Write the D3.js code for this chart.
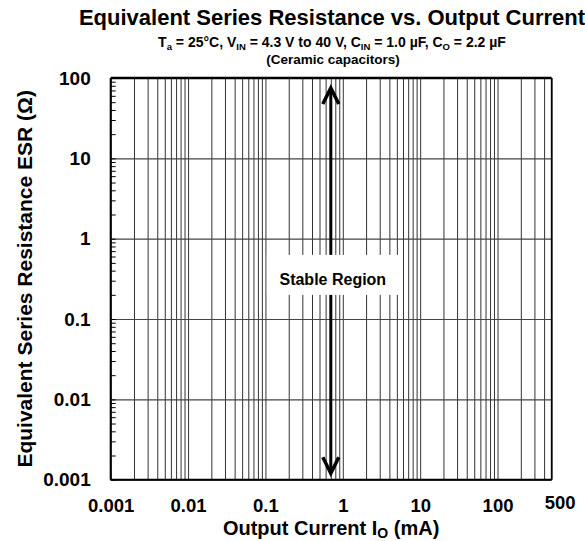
<!DOCTYPE html>
<html>
<head>
<meta charset="utf-8">
<script src="https://cdn.jsdelivr.net/npm/d3@7"></script>
<style>
body { margin: 0; background: #fff; }
svg text { font-family: "Liberation Sans", Arial, sans-serif; font-weight: bold; fill: #000; }
</style>
</head>
<body>
<svg id="chart" width="585" height="541"></svg>
<script>
// values
var xDomain = [0.001, 500];              // output current, mA
var yDomain = [0.001, 100];              // ESR, ohm
var xTickLabels = [0.001, 0.01, 0.1, 1, 10, 100, 500];
var yTickLabels = [0.001, 0.01, 0.1, 1, 10, 100];
var arrowCurrent = 0.7;                  // mA
var arrowEsr = [0.0012, 75];             // bottom tip, top tip
var regionLabel = "Stable Region";
var regionPos = [0.7, 0.316];

var svg = d3.select("#chart"),
    margin = {top: 78, right: 33.4, bottom: 61.3, left: 110.7},
    width = 585 - margin.left - margin.right,
    height = 541 - margin.top - margin.bottom;

var x = d3.scaleLog().domain(xDomain).range([0, width]);
var y = d3.scaleLog().domain(yDomain).range([height, 0]);

var g = svg.append("g")
    .attr("transform", "translate(" + margin.left + "," + margin.top + ")");

// vertical grid, 1..9 in every decade
g.append("g")
    .attr("transform", "translate(0," + height + ")")
    .call(d3.axisBottom(x).tickSize(-height).tickFormat(""))
    .call(function(a) { a.select(".domain").remove(); })
    .selectAll("line").attr("stroke", "#333").attr("stroke-width", 1);

// horizontal grid, decades only
g.append("g")
    .call(d3.axisLeft(y).tickValues(yTickLabels).tickSize(-width).tickFormat(""))
    .call(function(a) { a.select(".domain").remove(); })
    .selectAll("line").attr("stroke", "#444").attr("stroke-width", 1.2);

// small inward ticks on the left axis
g.append("g")
    .call(d3.axisLeft(y).tickSizeInner(-5).tickSizeOuter(0).tickFormat(""))
    .call(function(a) { a.select(".domain").remove(); })
    .selectAll("line").attr("stroke", "#000");

// tick labels
g.append("g")
    .call(d3.axisLeft(y).tickValues(yTickLabels).tickSize(0).tickPadding(20).tickFormat(String))
    .call(function(a) { a.select(".domain").remove(); })
    .selectAll("text").style("font-size", "19px");

var xAx = g.append("g")
    .attr("transform", "translate(0," + height + ")")
    .call(d3.axisBottom(x).tickValues(xTickLabels).tickSize(0).tickPadding(19.5).tickFormat(String))
    .call(function(a) { a.select(".domain").remove(); });
xAx.selectAll("text").style("font-size", "18.5px");
xAx.selectAll("text").filter(function(d) { return d === 500; })
    .attr("dx", 8).attr("y", 16.5);

// frame
g.append("line").attr("x1", 0).attr("x2", width).attr("y1", 0).attr("y2", 0)
    .attr("stroke", "#000").attr("stroke-width", 2.4);
g.append("line").attr("x1", 0).attr("x2", width).attr("y1", height).attr("y2", height)
    .attr("stroke", "#000").attr("stroke-width", 2);
g.append("line").attr("x1", 0).attr("x2", 0).attr("y1", 0).attr("y2", height)
    .attr("stroke", "#000").attr("stroke-width", 2);
g.append("line").attr("x1", width).attr("x2", width).attr("y1", 0).attr("y2", height)
    .attr("stroke", "#000").attr("stroke-width", 1.5);

// stable region arrow
var ax = x(arrowCurrent), yb = y(arrowEsr[0]), yt = y(arrowEsr[1]);
g.append("line").attr("x1", ax).attr("x2", ax).attr("y1", yb - 2).attr("y2", yt + 2)
    .attr("stroke", "#000").attr("stroke-width", 3);
g.append("path")
    .attr("d", "M" + (ax - 8) + "," + (yt + 16) + "L" + ax + "," + yt + "L" + (ax + 8) + "," + (yt + 16))
    .attr("fill", "none").attr("stroke", "#000").attr("stroke-width", 3.5);
g.append("path")
    .attr("d", "M" + (ax - 8) + "," + (yb - 16) + "L" + ax + "," + yb + "L" + (ax + 8) + "," + (yb - 16))
    .attr("fill", "none").attr("stroke", "#000").attr("stroke-width", 3.5);

var lx = x(regionPos[0]), ly = y(regionPos[1]);
g.append("rect")
    .attr("x", lx - 64).attr("y", ly - 24).attr("width", 133).attr("height", 40)
    .attr("fill", "#fff");
g.append("text")
    .attr("x", lx + 2).attr("y", ly + 6)
    .attr("text-anchor", "middle")
    .style("font-size", "16px")
    .text(regionLabel);

// titles
svg.append("text").attr("x", 332).attr("y", 25).attr("text-anchor", "middle")
    .style("font-size", "22px")
    .text("Equivalent Series Resistance vs. Output Current");

var sub = svg.append("text").attr("x", 332).attr("y", 47).attr("text-anchor", "middle")
    .style("font-size", "14px");
[["T", 0], ["a", 1], [" = 25°C, V", 0], ["IN", 1], [" = 4.3 V to 40 V, C", 0], ["IN", 1],
 [" = 1.0 µF, C", 0], ["O", 1], [" = 2.2 µF", 0]].forEach(function(p, i, arr) {
    var prev = i > 0 ? arr[i - 1][1] : 0;
    sub.append("tspan")
        .attr("dy", p[1] === prev ? 0 : (p[1] ? 3 : -3))
        .style("font-size", p[1] ? "9.5px" : "14px")
        .text(p[0]);
});
svg.append("text").attr("x", 333).attr("y", 64).attr("text-anchor", "middle")
    .style("font-size", "13.5px")
    .text("(Ceramic capacitors)");

var xt = svg.append("text").attr("x", margin.left + width / 2).attr("y", 534.5)
    .attr("text-anchor", "middle").style("font-size", "20px");
xt.append("tspan").text("Output Current I");
xt.append("tspan").attr("dy", 3.5).style("font-size", "14px").text("O");
xt.append("tspan").attr("dy", -3.5).text(" (mA)");

svg.append("text")
    .attr("transform", "translate(31.5," + (margin.top + height / 2) + ") rotate(-90)")
    .attr("text-anchor", "middle").style("font-size", "21px")
    .text("Equivalent Series Resistance ESR (Ω)");
</script>
</body>
</html>
